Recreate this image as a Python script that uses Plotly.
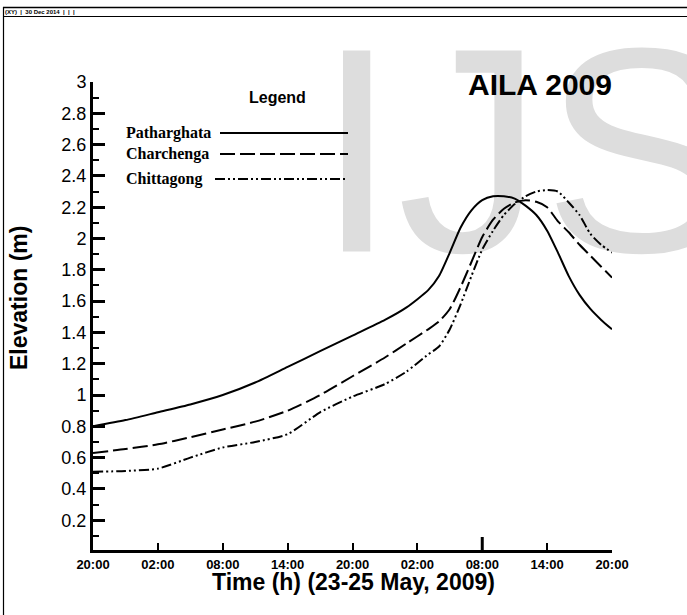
import plotly.graph_objects as go

# ---------------- data ----------------
hours = [0, 3, 6, 9, 12, 15, 18, 21, 24, 27, 29, 31, 32, 33, 34, 35, 36, 37,
         38, 39, 40, 41, 42, 43, 44, 45, 46, 47, 48]
patharghata = [0.80, 0.84, 0.89, 0.94, 1.00, 1.08, 1.18, 1.28, 1.38, 1.48, 1.56,
               1.67, 1.76, 1.91, 2.07, 2.18, 2.245, 2.27, 2.27, 2.255, 2.21, 2.15,
               2.05, 1.91, 1.76, 1.64, 1.55, 1.48, 1.42]
charchenga = [0.63, 0.655, 0.685, 0.73, 0.78, 0.83, 0.90, 1.00, 1.12, 1.24, 1.33,
              1.42, 1.47, 1.55, 1.69, 1.85, 2.01, 2.12, 2.19, 2.23, 2.245, 2.235,
              2.20, 2.11, 2.04, 1.96, 1.89, 1.82, 1.75]
chittagong = [0.51, 0.515, 0.53, 0.60, 0.665, 0.70, 0.75, 0.89, 0.99, 1.07, 1.15,
              1.26, 1.31, 1.42, 1.58, 1.76, 1.93, 2.05, 2.15, 2.22, 2.27, 2.30,
              2.31, 2.30, 2.23, 2.15, 2.03, 1.96, 1.91]
x_tickvals = [0, 6, 12, 18, 24, 30, 36, 42, 48]
x_ticktext = ["20:00", "02:00", "08:00", "14:00", "20:00", "02:00", "08:00", "14:00", "20:00"]
y_tickvals = [0.2, 0.4, 0.6, 0.8, 1.0, 1.2, 1.4, 1.6, 1.8, 2.0, 2.2, 2.4, 2.6, 2.8, 3.0]
y_ticktext = ["0.2", "0.4", "0.6", "0.8", "1", "1.2", "1.4", "1.6", "1.8", "2",
              "2.2", "2.4", "2.6", "2.8", "3"]
y_minor = [0.1, 0.3, 0.5, 0.7, 0.9, 1.1, 1.3, 1.5, 1.7, 1.9, 2.1, 2.3, 2.5, 2.7, 2.9]
series_names = ["Patharghata", "Charchenga", "Chittagong"]

# ---------------- layout geometry ----------------
W, H = 687, 615
L, R, T, B = 93, 75, 82, 65
PW, PH = W - L - R, H - T - B

def px(x):
    return (x - L) / PW

def py(y):
    return (H - B - y) / PH

SANS = "Liberation Sans, Arial, sans-serif"
SERIF = "Liberation Serif, Times New Roman, serif"
DASH = "15px,5px"
DASHDOT = "10px,3px,2px,3px,2px,3px"

fig = go.Figure()

# watermark (drawn first so curves sit above it)
fig.add_trace(go.Scatter(
    x=[40.14], y=[2.384], mode="text", text=["IJS"], textposition="middle center",
    textfont=dict(family=SANS, size=292, color="#dddddd"),
    cliponaxis=False, hoverinfo="skip", showlegend=False))

styles = [("solid", 2), (DASH, 2), (DASHDOT, 2)]
for name, vals, (dash, w) in zip(series_names, [patharghata, charchenga, chittagong], styles):
    fig.add_trace(go.Scatter(x=hours, y=vals, mode="lines", name=name,
                             line=dict(color="black", width=w, dash=dash, shape="spline", smoothing=0.6),
                             showlegend=False))

shapes = []
annotations = []

# header frame
shapes.append(dict(type="line", xref="paper", yref="paper", x0=px(3), x1=px(690), y0=py(7.5), y1=py(7.5),
                   line=dict(color="black", width=1.5)))
shapes.append(dict(type="line", xref="paper", yref="paper", x0=px(3), x1=px(690), y0=py(16.5), y1=py(16.5),
                   line=dict(color="black", width=1.2)))
shapes.append(dict(type="line", xref="paper", yref="paper", x0=px(3.5), x1=px(3.5), y0=py(7), y1=py(616),
                   line=dict(color="black", width=1.2)))
annotations.append(dict(text="<b>(XY)  |  30 Dec 2014  |  |  |</b>", xref="paper", yref="paper",
                        x=px(3), y=py(12), xanchor="left", yanchor="middle", showarrow=False,
                        font=dict(family=SANS, size=6, color="black")))

# thick tick at 08:00 (second day)
shapes.append(dict(type="line", xref="x", yref="paper", x0=36, x1=36, y0=0, y1=13 / PH,
                   line=dict(color="black", width=3)))

# custom legend
annotations.append(dict(text="<b>Legend</b>", xref="paper", yref="paper", x=px(277), y=py(97),
                        xanchor="center", yanchor="middle", showarrow=False,
                        font=dict(family=SANS, size=16, color="black")))
leg_y = [133, 154, 179]
leg_x0 = [220, 220, 215]
leg_dash = ["solid", DASH, DASHDOT]
for name, yy, x0, dsh in zip(series_names, leg_y, leg_x0, leg_dash):
    annotations.append(dict(text="<b>" + name + "</b>", xref="paper", yref="paper", x=px(124), y=py(yy),
                            xanchor="left", yanchor="middle", showarrow=False,
                            font=dict(family=SERIF, size=16, color="black")))
    shapes.append(dict(type="line", xref="paper", yref="paper", x0=px(x0), x1=px(348), y0=py(yy), y1=py(yy),
                       line=dict(color="black", width=2, dash=dsh)))

# title-like label
annotations.append(dict(text="<b>AILA 2009</b>", xref="paper", yref="paper", x=px(540), y=py(85),
                        xanchor="center", yanchor="middle", showarrow=False,
                        font=dict(family=SANS, size=30, color="black")))

# axis titles
annotations.append(dict(text="<b>Time (h) (23-25 May, 2009)</b>", xref="paper", yref="paper",
                        x=px(353), y=py(582), xanchor="center", yanchor="middle", showarrow=False,
                        font=dict(family=SANS, size=23, color="black")))
annotations.append(dict(text="<b>Elevation (m)</b>", xref="paper", yref="paper", textangle=-90,
                        x=px(19), y=py(298), xanchor="center", yanchor="middle", showarrow=False,
                        font=dict(family=SANS, size=23, color="black")))

fig.update_layout(
    width=W, height=H, autosize=False,
    margin=dict(l=L, r=R, t=T, b=B),
    paper_bgcolor="white", plot_bgcolor="white",
    shapes=shapes, annotations=annotations, showlegend=False,
    font=dict(family=SANS, color="black"),
)
fig.update_xaxes(range=[0, 48], showgrid=False, zeroline=False, showline=True, linecolor="black",
                 linewidth=3, ticks="inside", ticklen=7, tickwidth=1.5, tickcolor="black",
                 tickvals=x_tickvals, ticktext=["<b>" + t + "</b>" for t in x_ticktext],
                 tickfont=dict(family=SANS, size=13, color="black"))
fig.update_yaxes(range=[0.01, 3.0], showgrid=False, zeroline=False, showline=True, linecolor="black",
                 linewidth=3, ticks="inside", ticklen=12, tickwidth=3, tickcolor="black",
                 tickvals=y_tickvals, ticktext=y_ticktext,
                 tickfont=dict(family=SANS, size=18, color="black"),
                 minor=dict(tickvals=y_minor, ticks="inside", ticklen=6, tickwidth=1.5, tickcolor="black"))

fig.write_html("out.html", config={"displayModeBar": False},
               post_script="document.body.style.margin='0';document.body.style.overflow='hidden';")
